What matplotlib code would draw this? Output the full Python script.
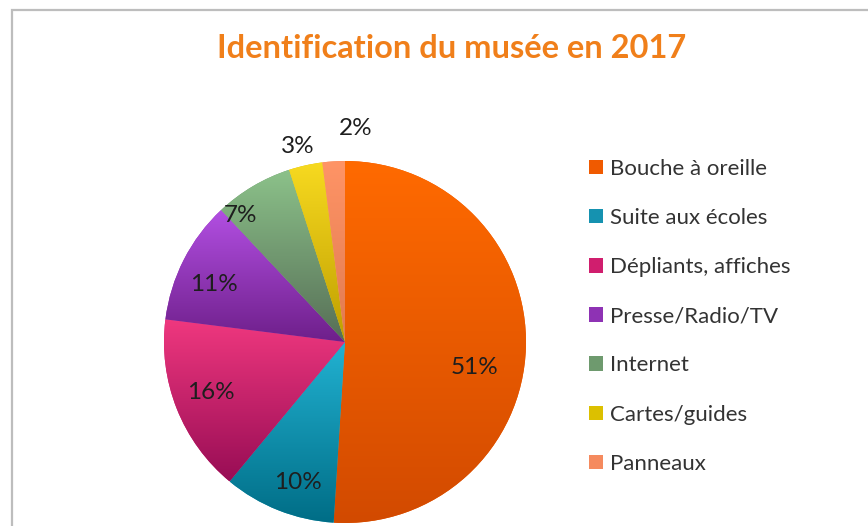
import numpy as np
import matplotlib
matplotlib.use("Agg")
import matplotlib.pyplot as plt
from matplotlib.colors import LinearSegmentedColormap
from matplotlib.patches import Patch, Rectangle

categories = ["Bouche à oreille", "Suite aux écoles", "Dépliants, affiches",
              "Presse/Radio/TV", "Internet", "Cartes/guides", "Panneaux"]
values = [51, 10, 16, 11, 7, 3, 2]
labels = ["51%", "10%", "16%", "11%", "7%", "3%", "2%"]
title = "Identification du musée en 2017"

top_colors = ["#FF6A00", "#22B2D2", "#F0387F", "#B24FE2", "#8CC28A", "#F7DA20", "#FF9466"]
bot_colors = ["#D24A00", "#006D86", "#980D55", "#6E1F8A", "#566E56", "#BF9E00", "#E07A50"]
mid_colors = ["#F05A00", "#1592B0", "#D01E6E", "#8E32B4", "#6E9A6E", "#DCC000", "#F58A5E"]

# label placement styling: radius fraction and angle offset (deg)
lab_r = [0.73, 0.82, 0.79, 0.79, 0.91, 1.11, 1.18]
lab_da = [-9.5, 3.0, -1.0, 3.5, 9.0, 1.0, -6.6]

W, H = 868, 526
fig = plt.figure(figsize=(W / 100, H / 100), dpi=100)
fig.patch.set_facecolor("white")

# outer frame
fig.add_artist(Rectangle((12 / W, -0.05), 1.0, (H - 10) / H + 0.05,
                         transform=fig.transFigure, fill=False,
                         edgecolor="#BDBDBD", linewidth=1.6))

cx, cy, R = 345, 342, 181
ax = fig.add_axes([(cx - R) / W, (H - cy - R) / H, 2 * R / W, 2 * R / H])

wedges, _ = ax.pie(values, colors=mid_colors, startangle=90, counterclock=False,
                   radius=1.0, wedgeprops=dict(linewidth=0))

for w, tc, bc in zip(wedges, top_colors, bot_colors):
    v = w.get_path().vertices
    x0, x1 = v[:, 0].min(), v[:, 0].max()
    y0, y1 = v[:, 1].min(), v[:, 1].max()
    cmap = LinearSegmentedColormap.from_list("g", [bc, tc])
    grad = np.linspace(0, 1, 256).reshape(-1, 1)
    im = ax.imshow(grad, extent=[x0, x1, y0, y1], origin="lower", cmap=cmap,
                   aspect="auto", interpolation="bicubic", zorder=2)
    im.set_clip_path(w)

total = sum(values)
cum = 0
for i, (v, lab) in enumerate(zip(values, labels)):
    a1 = 90 - 360 * cum / total
    a2 = 90 - 360 * (cum + v) / total
    mid = np.deg2rad((a1 + a2) / 2 + lab_da[i])
    cum += v
    ax.text(lab_r[i] * np.cos(mid), lab_r[i] * np.sin(mid), lab,
            ha="center", va="center", fontsize=17.5, color="#1E1E1E",
            family="Lato", zorder=5, clip_on=False)

ax.set_xlim(-1, 1)
ax.set_ylim(-1, 1)
ax.set_aspect("equal")
ax.axis("off")

fig.text(452 / W, 1 - 49 / H, title, ha="center", va="center",
         fontsize=23.5, color="#F07F1A", family="Lato", fontweight="bold")

handles = [Patch(facecolor=c, edgecolor="none") for c in mid_colors]
fig.legend(handles, categories, loc="upper left",
           bbox_to_anchor=(589 / W, 1 - 159 / H), frameon=False,
           prop=dict(family="Lato", size=16), labelcolor="#333333",
           handlelength=0.62, handleheight=0.62, handletextpad=0.33,
           labelspacing=1.31, borderaxespad=0, borderpad=0)

fig.savefig("out.png", dpi=100)
